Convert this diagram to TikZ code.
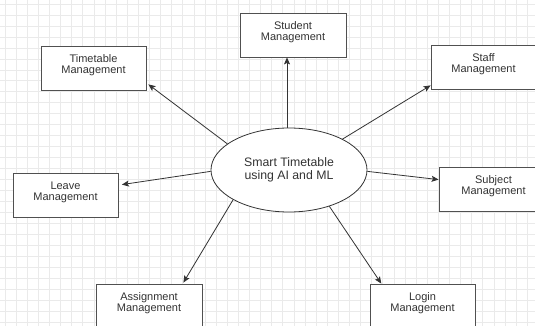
\documentclass[tikz,border=0pt]{standalone}
\usepackage{fontspec}
\setmainfont{Liberation Sans}
\usetikzlibrary{shapes.geometric,arrows.meta}
\definecolor{txt}{HTML}{333333}
\definecolor{edge}{HTML}{505050}
\definecolor{gridc}{HTML}{EAEAEA}
\tikzset{
  box/.style={draw=edge, line width=0.8pt, fill=white, minimum width=105pt, minimum height=44pt,
    inner sep=0pt, align=center, font=\fontsize{11}{11.2}\selectfont, text=txt, text depth=8.3pt},
  hub/.style={draw=black!80, line width=0.8pt, fill=white, ellipse, minimum width=156pt, minimum height=84pt,
    inner sep=0pt, align=center, font=\fontsize{12.3}{13.5}\selectfont, text=txt},
  conn/.style={draw=black!80, line width=0.8pt, -{Stealth[length=7pt,width=6pt,inset=1.5pt]}},
}
\begin{document}
\begin{tikzpicture}[x=1pt,y=-1pt]
\useasboundingbox (0,0) rectangle (535,326);
\clip (0,0) rectangle (535,326);
\fill[white] (0,0) rectangle (535,326);
\foreach \i in {0,...,48} {\draw[gridc, line width=0.6pt] (5+11.11*\i,0) -- (5+11.11*\i,326);}
\foreach \j in {0,...,30} {\draw[gridc, line width=0.6pt] (0,4+10.97*\j) -- (535,4+10.97*\j);}

\node[hub] (ell) at (289,170) {Smart Timetable\\using AI and ML};
\node[box] (tt) at (93.5,68) {Timetable\\Management};
\node[box, minimum width=106pt] (st) at (293,35) {Student\\Management};
\node[box] (sf) at (483.5,67) {Staff\\Management};
\node[box] (lv) at (65.5,195) {Leave\\Management};
\node[box, minimum width=106pt] (as) at (149,306) {Assignment\\Management};
\node[box, minimum width=109pt] (sj) at (493.5,189) {Subject\\Management};
\node[box] (lg) at (422.5,306) {Login\\Management};

\draw[conn] (ell.157) -- ([shift={(2,-6)}]tt.south east);
\draw[conn] ([xshift=-2pt]ell.north) -- ([xshift=-2pt]ell.north |- st.south);
\draw[conn] (ell.30) -- ([shift={(0,-4)}]sf.south west);
\draw[conn] (ell.181.5) -- ([shift={(3.5,12)}]lv.north east);
\draw[conn] (ell.208.7) -- ([shift={(-19,-1)}]as.north east);
\draw[conn] (ell.-1.7) -- ([shift={(0,13)}]sj.north west);
\draw[conn] (ell.-42.8) -- ([shift={(11.7,0)}]lg.north west);
\end{tikzpicture}
\end{document}
